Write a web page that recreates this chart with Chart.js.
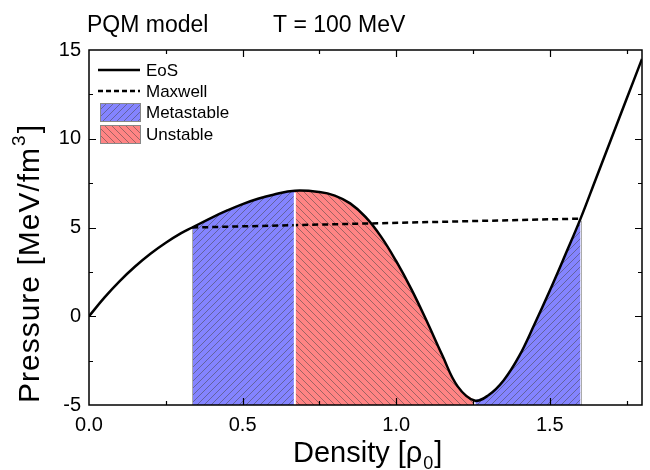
<!DOCTYPE html>
<html>
<head>
<meta charset="utf-8">
<script src="https://cdn.jsdelivr.net/npm/chart.js@4"></script>
<style>
  body { margin: 0; background: #fff; }
  canvas { display: block; }
</style>
</head>
<body>
<canvas id="chart" width="650" height="470"></canvas>
<script>
const FONT = '"Liberation Sans", Arial, sans-serif';

// EoS curve
const density = [0, 0.05, 0.1, 0.15, 0.2, 0.25, 0.3, 0.336, 0.4, 0.45, 0.5, 0.55, 0.6, 0.67,
  0.75, 0.8, 0.85, 0.9, 0.95, 1.0, 1.05, 1.1, 1.15, 1.2, 1.255, 1.3, 1.35, 1.4, 1.45, 1.5,
  1.55, 1.6, 1.65, 1.7, 1.75, 1.8];
const pressure = [0, 1.05, 1.98, 2.8, 3.52, 4.14, 4.68, 5.0, 5.56, 5.96, 6.32, 6.62, 6.85, 7.07,
  7.0, 6.8, 6.36, 5.6, 4.5, 3.1, 1.5, -0.3, -2.2, -3.95, -4.75, -4.45, -3.6, -2.25, -0.45, 1.45,
  3.45, 5.5, 7.75, 10.0, 12.25, 14.5];

const maxwellDensity = [0.336, 1.6];
const maxwellPressure = [5.0, 5.5];

const metastableRanges = [[0.336, 0.67], [1.255, 1.6]];
const unstableRanges = [[0.67, 1.255]];

const xTickLabels = ["0.0", "0.5", "1.0", "1.5"];

const points = density.map((x, i) => ({ x, y: pressure[i] }));
const pick = (lo, hi) => points.filter(p => p.x >= lo - 1e-9 && p.x <= hi + 1e-9);

function hatch(bg, dir) {
  const s = 7;
  const c = document.createElement("canvas");
  c.width = c.height = s;
  const g = c.getContext("2d");
  g.fillStyle = bg;
  g.fillRect(0, 0, s, s);
  g.strokeStyle = "rgba(70,70,70,0.65)";
  g.lineWidth = 0.8;
  g.beginPath();
  if (dir > 0) {
    g.moveTo(-1, s + 1); g.lineTo(s + 1, -1);
    g.moveTo(-1, 1); g.lineTo(1, -1);
    g.moveTo(s - 1, s + 1); g.lineTo(s + 1, s - 1);
  } else {
    g.moveTo(-1, -1); g.lineTo(s + 1, s + 1);
    g.moveTo(s - 1, -1); g.lineTo(s + 1, 1);
    g.moveTo(-1, s - 1); g.lineTo(1, s + 1);
  }
  g.stroke();
  return g.createPattern(c, "repeat");
}

const blueHatch = hatch("#8484ff", 1);
const redHatch = hatch("#ff8484", -1);

const fillSet = (range, pattern) => ({
  data: pick(range[0], range[1]),
  backgroundColor: pattern,
  borderWidth: 0,
  pointRadius: 0,
  fill: "start",
  tension: 0.4,
});

const datasets = [
  {
    label: "EoS",
    data: points,
    borderColor: "#000",
    borderWidth: 2.5,
    pointRadius: 0,
    fill: false,
    tension: 0.4,
  },
  {
    label: "Maxwell",
    data: maxwellDensity.map((x, i) => ({ x, y: maxwellPressure[i] })),
    borderColor: "#000",
    borderWidth: 2.5,
    borderDash: [6, 4],
    pointRadius: 0,
    fill: false,
  },
  ...metastableRanges.map(r => fillSet(r, blueHatch)),
  ...unstableRanges.map(r => fillSet(r, redHatch)),
];

const curveAt = x => pressure[density.findIndex(d => Math.abs(d - x) < 1e-9)];

const decorations = {
  id: "decorations",
  afterDatasetsDraw(chart) {
    const { ctx, scales: { x, y } } = chart;
    ctx.save();
    // region edges
    const edges = [metastableRanges[0][0], metastableRanges[1][1]];
    ctx.strokeStyle = "#aaa";
    ctx.lineWidth = 1;
    edges.forEach(v => {
      const px = Math.round(x.getPixelForValue(v)) + 0.5;
      ctx.beginPath();
      ctx.moveTo(px, y.bottom);
      ctx.lineTo(px, y.getPixelForValue(curveAt(v)) + 2);
      ctx.stroke();
    });
    ctx.strokeStyle = "#fff";
    ctx.lineWidth = 2;
    unstableRanges[0].forEach(v => {
      const px = x.getPixelForValue(v);
      ctx.beginPath();
      ctx.moveTo(px, y.bottom);
      ctx.lineTo(px, y.getPixelForValue(curveAt(v)) + 2);
      ctx.stroke();
    });
    ctx.restore();
  },
  afterDraw(chart) {
    const { ctx, chartArea: a, scales: { x, y } } = chart;
    ctx.save();
    ctx.strokeStyle = "#000";
    ctx.lineWidth = 1.5;
    ctx.strokeRect(a.left, a.top, a.right - a.left, a.bottom - a.top);

    ctx.lineWidth = 1.2;
    ctx.beginPath();
    for (let v = 0.25; v < 1.8; v += 0.25) {
      const px = Math.round(x.getPixelForValue(v)) + 0.5;
      const len = Math.abs(v % 0.5) < 1e-6 ? 7 : 4;
      ctx.moveTo(px, a.bottom); ctx.lineTo(px, a.bottom - len);
      ctx.moveTo(px, a.top); ctx.lineTo(px, a.top + len);
    }
    for (let v = -2.5; v < 15; v += 2.5) {
      const py = Math.round(y.getPixelForValue(v)) + 0.5;
      const len = Math.abs(v % 5) < 1e-6 ? 7 : 4;
      ctx.moveTo(a.left, py); ctx.lineTo(a.left + len, py);
      ctx.moveTo(a.right, py); ctx.lineTo(a.right - len, py);
    }
    ctx.stroke();

    // title
    ctx.fillStyle = "#000";
    ctx.textBaseline = "alphabetic";
    ctx.textAlign = "left";
    ctx.font = "23px " + FONT;
    ctx.fillText("PQM model", 87, 32);
    ctx.fillText("T = 100 MeV", 273, 32);

    // x axis title
    ctx.font = "29px " + FONT;
    let tx = 293;
    const xt = "Density [\u03c1";
    ctx.fillText(xt, tx, 462);
    tx += ctx.measureText(xt).width;
    ctx.font = "18px " + FONT;
    ctx.fillText("0", tx + 1, 469);
    tx += ctx.measureText("0").width + 2;
    ctx.font = "29px " + FONT;
    ctx.fillText("]", tx, 462);

    // y axis title
    ctx.save();
    ctx.translate(39, 403);
    ctx.rotate(-Math.PI / 2);
    ctx.letterSpacing = "1px";
    ctx.font = "30px " + FONT;
    const yt = "Pressure [MeV/fm";
    ctx.fillText(yt, 0, 0);
    let ty = ctx.measureText(yt).width;
    ctx.font = "19px " + FONT;
    ctx.fillText("3", ty + 1, -14);
    ty += ctx.measureText("3").width + 2;
    ctx.font = "30px " + FONT;
    ctx.fillText("]", ty, 0);
    ctx.restore();

    // legend
    ctx.font = "17px " + FONT;
    ctx.lineWidth = 2.5;
    ctx.beginPath();
    ctx.moveTo(98, 70); ctx.lineTo(140, 70);
    ctx.stroke();
    ctx.setLineDash([5, 3]);
    ctx.beginPath();
    ctx.moveTo(98, 91); ctx.lineTo(140, 91);
    ctx.stroke();
    ctx.setLineDash([]);
    ctx.fillText("EoS", 146, 76);
    ctx.fillText("Maxwell", 146, 97);
    ctx.lineWidth = 1;
    ctx.strokeStyle = "#888";
    ctx.fillStyle = blueHatch;
    ctx.fillRect(100, 103, 40, 18);
    ctx.strokeRect(100.5, 103.5, 40, 18);
    ctx.fillStyle = redHatch;
    ctx.fillRect(100, 125, 40, 18);
    ctx.strokeRect(100.5, 125.5, 40, 18);
    ctx.fillStyle = "#000";
    ctx.fillText("Metastable", 146, 118);
    ctx.fillText("Unstable", 146, 140);
    ctx.restore();
  },
};

const config = {
  type: "line",
  data: { datasets },
  options: {
    responsive: false,
    animation: false,
    devicePixelRatio: 1,
    layout: { padding: { left: 0, top: 50, right: 4, bottom: 0 } },
    plugins: {
      legend: { display: false },
      tooltip: { enabled: false },
    },
    scales: {
      x: {
        type: "linear",
        min: 0,
        max: 1.8,
        grid: { display: false, drawTicks: false },
        border: { display: false },
        ticks: {
          stepSize: 0.5,
          color: "#000",
          padding: 8,
          maxRotation: 0,
          font: { family: FONT, size: 20 },
          callback: (v) => xTickLabels.find(t => Math.abs(parseFloat(t) - v) < 1e-6) ?? "",
        },
        afterFit: (s) => { s.height = 65; },
      },
      y: {
        min: -5,
        max: 15,
        grid: { display: false, drawTicks: false },
        border: { display: false },
        ticks: {
          stepSize: 5,
          color: "#000",
          padding: 8,
          font: { family: FONT, size: 20 },
        },
        afterFit: (s) => { s.width = 89; },
      },
    },
  },
  plugins: [decorations],
};

new Chart(document.getElementById("chart"), config);
</script>
</body>
</html>
